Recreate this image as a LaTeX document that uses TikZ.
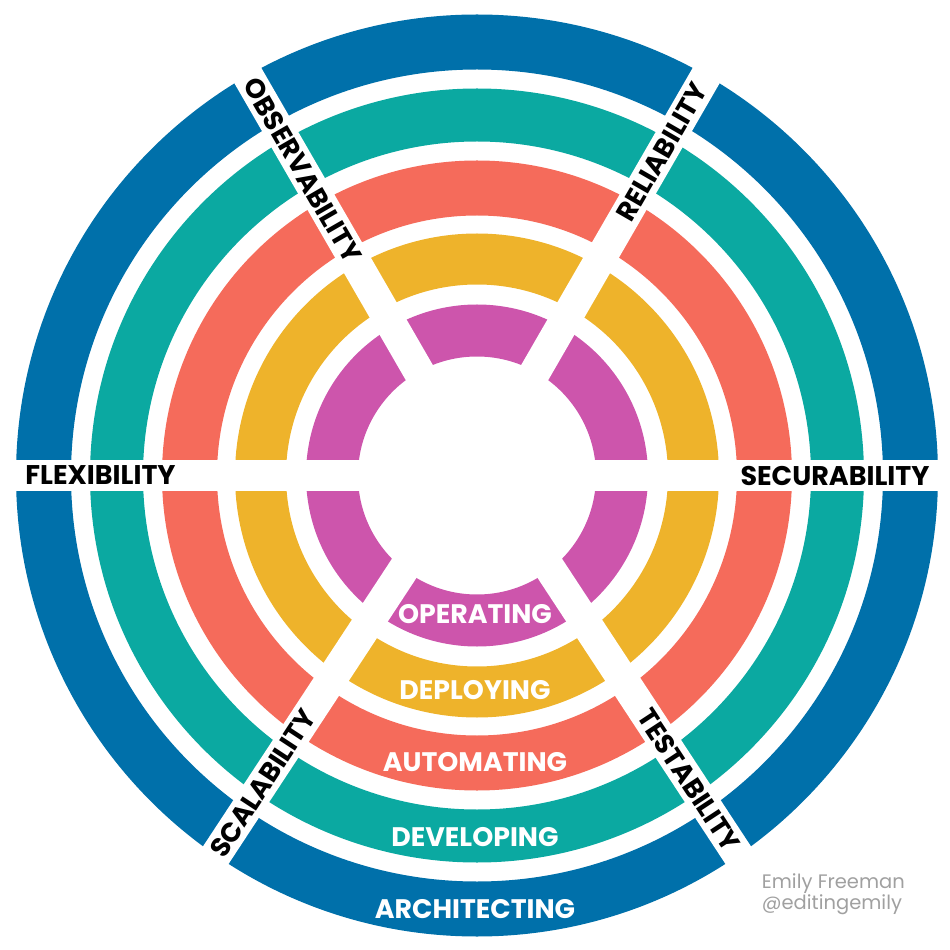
\documentclass[tikz,border=0pt]{standalone}
\usepackage{fontspec}
\setmainfont{Poppins}
\usetikzlibrary{calc}
\definecolor{archblue}{HTML}{0070AA}
\definecolor{devteal}{HTML}{0BA9A1}
\definecolor{autored}{HTML}{F56B5B}
\definecolor{depyellow}{HTML}{EEB32B}
\definecolor{opmagenta}{HTML}{CD55AC}
\definecolor{credit}{HTML}{A0A0A0}
\tikzset{
  gap/.style={draw=white,line width=31pt},
  quality/.style={font=\fontsize{27}{27}\selectfont\bfseries,text=black,inner sep=0pt},
  phase/.style={font=\fontsize{26.8}{27}\selectfont\bfseries,text=white,inner sep=0pt},
}

\begin{document}
\begin{tikzpicture}[x=1pt,y=1pt]
  \useasboundingbox (-477,-474.5) rectangle (473,475.5);
  % ---- rings, outer to inner
  \foreach \r/\w/\c in {433.5/55/archblue,360.5/53/devteal,287.5/55/autored,216.5/51/depyellow,145/52/opmagenta}
    \draw[line width=\w pt,draw=\c] (0,0) circle (\r);
  % ---- gaps between the segments
  \coordinate (up) at (0,3);
  \coordinate (lo) at (0,18);
  \draw[gap] (-480,0) -- (480,0);
  \draw[gap] (up) -- ++(60:480);
  \draw[gap] (up) -- ++(120:480);
  \draw[gap] (lo) -- ++(236.7:500);
  \draw[gap] (lo) -- ++(303.3:500);
  % ---- qualities, in the gaps
  \node[quality] (flex) at (-376.5,0) {FLEXIBILITY};
  \node[quality] (secu) at (358,0) {SECURABILITY};
  \node[quality,rotate=-60] (obs) at ($(up)+(120:349)$) {OBSERVABILITY};
  \node[quality,rotate=60] (rel) at ($(up)+(60:370)$) {RELIABILITY};
  \node[quality,rotate=56.7] (scal) at ($(lo)+(236.7:390)$) {SCALABILITY};
  \node[quality,rotate=-56.7] (test) at ($(lo)+(303.3:386)$) {TESTABILITY};
  % ---- phases, on the bottom segments
  \node[phase] (op) at (-2,-138.5) {OPERATING};
  \node[phase] (dep) at (-2,-214.5) {DEPLOYING};
  \node[phase] (auto) at (-2,-286.5) {AUTOMATING};
  \node[phase] (dev) at (-2,-361.5) {DEVELOPING};
  \node[phase] (arch) at (-2,-433.5) {ARCHITECTING};
  % ---- credit
  \node[anchor=base west,align=left,inner sep=0pt,text=credit,
        font=\fontsize{19.5}{21}\selectfont] (cred) at (284.7,-433.5)
    {Emily Freeman\\@editingemily};
\end{tikzpicture}
\end{document}
